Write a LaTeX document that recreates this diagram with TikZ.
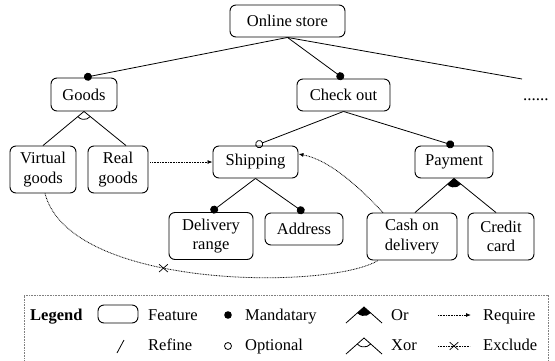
\documentclass[tikz,border=0pt]{standalone}
\usepackage{fontspec}
\setmainfont{Liberation Serif}
\usetikzlibrary{arrows.meta,shapes.misc,calc}
\begin{document}
\begin{tikzpicture}[x=1pt,y=-1pt,
  feat/.style={draw, rounded corners=6pt, line width=0.9pt, align=center, inner sep=0pt, font=\fontsize{16.5}{19.5}\selectfont},
  conn/.style={line width=0.8pt},
  mand/.style={conn, -{Circle[length=8pt]}},
  opt/.style={conn, -{Circle[open,length=8pt]}},
  dotline/.style={line width=0.8pt, dash pattern=on 0.8pt off 0.8pt},
  reqarrow/.style={dotline, -{Latex[length=5pt,width=4pt]}},
  xmark/.style={cross out, draw, solid, line width=0.7pt, inner sep=0pt, minimum width=8pt, minimum height=7pt},
  lbl/.style={anchor=base west, inner sep=0pt, font=\fontsize{16.5}{19.5}\selectfont},
]
\useasboundingbox (0,0) rectangle (555,360);

% feature nodes
\node[feat, minimum width=115pt, minimum height=32pt] (os) at (287.5,21) {Online store};
\node[feat, minimum width=66pt, minimum height=33pt] (goods) at (84,94.5) {Goods};
\node[feat, minimum width=93pt, minimum height=32pt] (co) at (343.5,95) {Check out};
\node[feat, minimum width=66pt, minimum height=47pt] (vg) at (43,169.5) {Virtual\\goods};
\node[feat, minimum width=60pt, minimum height=47pt] (rg) at (118,169.5) {Real\\goods};
\node[feat, minimum width=85pt, minimum height=32pt] (sh) at (255.5,162) {Shipping};
\node[feat, minimum width=78pt, minimum height=32pt] (pay) at (454,162) {Payment};
\node[feat, minimum width=84pt, minimum height=47pt] (dr) at (211,236) {Delivery\\range};
\node[feat, minimum width=78pt, minimum height=32pt] (ad) at (304,229) {Address};
\node[feat, minimum width=90pt, minimum height=47pt] (cod) at (412,236.5) {Cash on\\delivery};
\node[feat, minimum width=66pt, minimum height=47pt] (cc) at (501,236.5) {Credit\\card};
\coordinate (more) at (522,79);
\node[lbl, font=\fontsize{17}{20}\selectfont] (dots) at (523,100) {......};

% tree connectors
\draw[mand] (os.south) -- (goods.north);
\draw[mand] (os.south) -- (co.north);
\draw[conn] (os.south) -- (more);

\draw[conn] (goods.south) -- (vg.north);
\draw[conn] (goods.south) -- ($(rg.north)+(8,0)$);
\draw[conn] (goods.south) ++(40:8) arc (40:140:8);

\draw[opt] (co.south) -- (sh.north);
\draw[mand] (co.south) -- (pay.north);

\draw[mand] (sh.south) -- (dr.north);
\draw[mand] (sh.south) -- (ad.north);

\draw[conn] (pay.south) -- ($(cod.north)+(3,0)$);
\draw[conn] (pay.south) -- ($(cc.north)+(-5,0)$);
\fill (pay.south) -- ++(40:9) arc (40:138:9) -- cycle;

% cross-tree constraints
\draw[reqarrow] ($(rg.east |- sh.west)+(2,0)$) -- (sh.west);
\draw[reqarrow] ($(cod.north)+(-29,0)$) .. controls (360,188) and (330,160) .. ($(sh.east)+(0,-8)$);
\draw[dotline] ($(vg.south)+(2,0)$) .. controls (70,290) and (330,290) .. ($(cod.south)+(-34,0)$)
  node[xmark, pos=0.41] (ex) {};

% legend
\draw[dotline, gray] (24,362) -- (24,295) -- (548,295) -- (548,362);
\node[lbl, font=\fontsize{16.5}{19.5}\selectfont\bfseries] (lg) at (30,320.5) {Legend};
\draw[line width=0.9pt, rounded corners=6pt] (98,305) rectangle (138,323);
\node[lbl] (lf) at (148,320.5) {Feature};
\fill (228,315) circle (3.8pt);
\node[lbl] (lm) at (245,320.5) {Mandatary};
\draw[conn] (346,323) -- (364,307) -- (382,323);
\fill (364,307) -- ++(41.6:9) arc (41.6:138.4:9) -- cycle;
\node[lbl] (lo) at (391,320.5) {Or};
\draw[reqarrow] (438,315) -- (471,315);
\node[lbl] (lr) at (483,320.5) {Require};

\draw[conn] (117,353) -- (124,340);
\node[lbl] (lref) at (148,350) {Refine};
\draw[line width=0.8pt] (228,346) circle (3.5pt);
\node[lbl] (lopt) at (245,350) {Optional};
\draw[conn] (346,354) -- (364,338) -- (382,354);
\draw[conn] (364,338) ++(41.6:9) arc (41.6:138.4:9);
\node[lbl] (lx) at (391,350) {Xor};
\draw[dotline] (438,346) -- (470,346);
\node[xmark] (lxm) at (454,346) {};
\node[lbl] (le) at (483,350) {Exclude};
\end{tikzpicture}
\end{document}
